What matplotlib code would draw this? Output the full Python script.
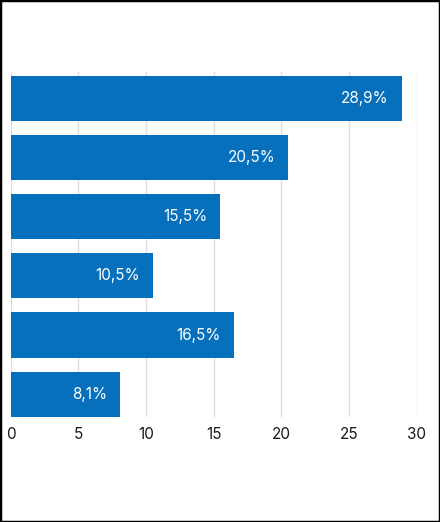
import matplotlib
matplotlib.use("Agg")
import matplotlib.pyplot as plt
from matplotlib.patches import Rectangle

values = [28.9, 20.5, 15.5, 10.5, 16.5, 8.1]
labels = ["28,9%", "20,5%", "15,5%", "10,5%", "16,5%", "8,1%"]
xticks = [0, 5, 10, 15, 20, 25, 30]

plt.rcParams['font.family'] = ['Inter', 'DejaVu Sans']

W, H = 440, 522
fig = plt.figure(figsize=(W / 100, H / 100), dpi=100)
ax = fig.add_axes([10.7 / W, 1 - 417 / H, (416.7 - 10.7) / W, (417 - 72) / H])

pos = list(range(len(values)))
bar_h = 0.763
color = "#0670BC"
ax.barh(pos, values, height=bar_h, color=color, zorder=3)
ax.set_ylim(5 + bar_h / 2 + 0.005, -0.45)
ax.set_xlim(0, 30)

for p, v, lab in zip(pos, values, labels):
    ax.annotate(lab, xy=(v, p), xytext=(-13, 0), textcoords="offset pixels",
                ha="right", va="center", color="white", fontsize=11, zorder=4)

ax.set_xticks(xticks)
ax.set_xticklabels([str(t) for t in xticks], fontsize=11, color="#1a1a1a")
ax.set_yticks([])
ax.tick_params(axis="x", length=0, pad=7)
ax.grid(axis="x", color="#dedede", linewidth=1, zorder=0)
for s in ax.spines.values():
    s.set_visible(False)

fig.patches.append(Rectangle((0, 0), 1, 1, transform=fig.transFigure, fill=False,
                             edgecolor="black", linewidth=2.5, zorder=10))

fig.savefig("out.png", dpi=100)
